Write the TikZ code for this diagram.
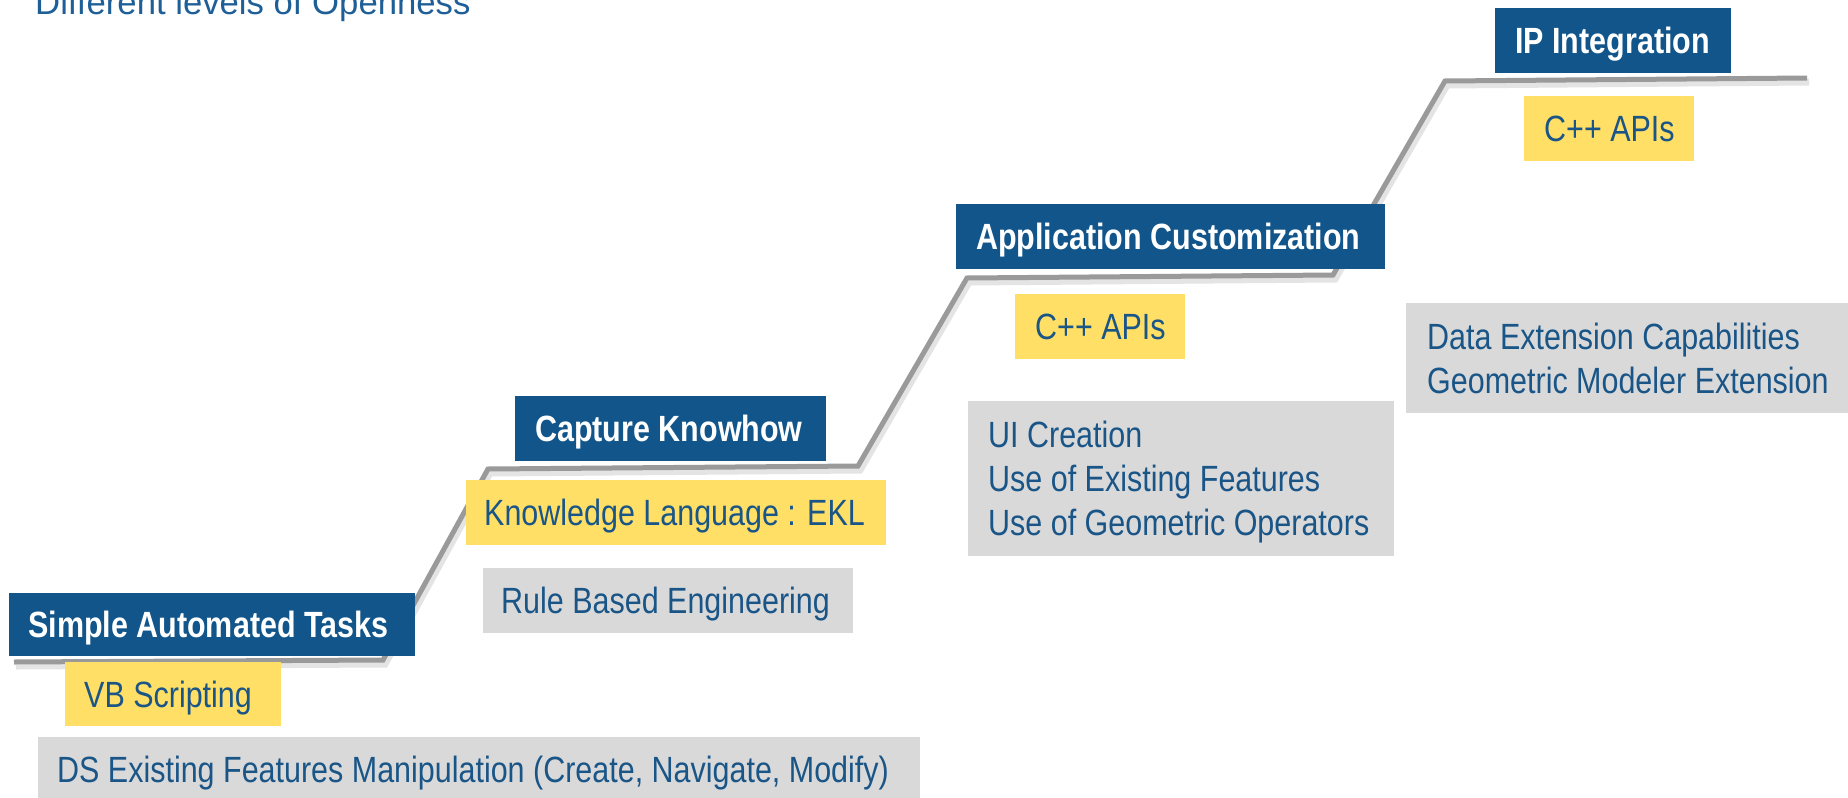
\documentclass[tikz,border=0pt]{standalone}
\usepackage{fontspec}
\setmainfont{Liberation Sans}
\newfontfamily\narrowfont[FakeStretch=0.835]{Liberation Sans}
\definecolor{hdrblue}{HTML}{11558A}
\definecolor{txtblue}{HTML}{1A5587}
\definecolor{titleblue}{HTML}{1F5F98}
\definecolor{ylw}{HTML}{FFDF66}
\definecolor{gry}{HTML}{D9D9D9}
\definecolor{stairgray}{HTML}{9A9A9A}
\begin{document}
\begin{tikzpicture}[x=1pt,y=-1pt,
  boxbase/.style={draw=none, inner sep=0, anchor=north west},
  hdrbox/.style={boxbase, fill=hdrblue},
  ylwbox/.style={boxbase, fill=ylw},
  grybox/.style={boxbase, fill=gry},
  hdrtext/.style={inner sep=0, anchor=base west, text=white, font=\narrowfont\bfseries\fontsize{36.5}{44}\selectfont},
  bodytext/.style={inner sep=0, anchor=base west, text=txtblue, font=\narrowfont\fontsize{36.5}{44}\selectfont},
  stair/.style={line width=5pt, stairgray, line join=miter, line cap=butt},
  stairshadow/.style={line width=7pt, black!30, opacity=0.35, line join=miter, line cap=butt}
]
\useasboundingbox (0,0) rectangle (1848,798);
\fill[white] (0,0) rectangle (1848,798);

% title (cut off at top)
\node[inner sep=0, anchor=base west, text=titleblue, font=\fontsize{34.7}{40}\selectfont] (title) at (35,14) {Different levels of Openness};

% staircase
\coordinate (s0) at (14,662);
\coordinate (s1) at (383,660);
\coordinate (s2) at (488,469);
\coordinate (s3) at (858,466);
\coordinate (s4) at (967,278);
\coordinate (s5) at (1333,275);
\coordinate (s6) at (1445,81);
\coordinate (s7) at (1807,78);
\draw[stairshadow] ([xshift=2pt,yshift=-4pt]s0) -- ([xshift=2pt,yshift=-4pt]s1) -- ([xshift=2pt,yshift=-4pt]s2) -- ([xshift=2pt,yshift=-4pt]s3) -- ([xshift=2pt,yshift=-4pt]s4) -- ([xshift=2pt,yshift=-4pt]s5) -- ([xshift=2pt,yshift=-4pt]s6) -- ([xshift=2pt,yshift=-4pt]s7);
\draw[stair] (s0) -- (s1) -- (s2) -- (s3) -- (s4) -- (s5) -- (s6) -- (s7);

% level 1
\node[hdrbox, minimum width=406pt, minimum height=63pt] (b1) at (9,593) {};
\node[hdrtext] (t1) at (28,637.5) {Simple Automated Tasks};
\node[ylwbox, minimum width=216pt, minimum height=64pt] (y1) at (65,662) {};
\node[bodytext] (ty1) at (84,707) {VB Scripting};
\node[grybox, minimum width=882pt, minimum height=64pt] (g1) at (38,737) {};
\node[bodytext] (tg1) at (57,782) {DS Existing Features Manipulation (Create, Navigate, Modify)};

% level 2
\node[hdrbox, minimum width=311pt, minimum height=65pt] (b2) at (515,396) {};
\node[hdrtext] (t2) at (535,441.5) {Capture Knowhow};
\node[ylwbox, minimum width=420pt, minimum height=65pt] (y2) at (466,480) {};
\node[bodytext] (ty2) at (484,525) {Knowledge Language : EKL};
\node[grybox, minimum width=370pt, minimum height=65pt] (g2) at (483,568) {};
\node[bodytext] (tg2) at (501,613.5) {Rule Based Engineering};

% level 3
\node[hdrbox, minimum width=429pt, minimum height=65pt] (b3) at (956,204) {};
\node[hdrtext] (t3) at (976,249.5) {Application Customization};
\node[ylwbox, minimum width=170pt, minimum height=65pt] (y3) at (1015,294) {};
\node[bodytext] (ty3) at (1035,339.5) {C++ APIs};
\node[grybox, minimum width=426pt, minimum height=155pt] (g3) at (968,401) {};
\node[bodytext] (tg3a) at (988,447.5) {UI Creation};
\node[bodytext] (tg3b) at (988,491.5) {Use of Existing Features};
\node[bodytext] (tg3c) at (988,535.5) {Use of Geometric Operators};

% level 4
\node[hdrbox, minimum width=236pt, minimum height=65pt] (b4) at (1495,8) {};
\node[hdrtext] (t4) at (1515,53.5) {IP Integration};
\node[ylwbox, minimum width=170pt, minimum height=65pt] (y4) at (1524,96) {};
\node[bodytext] (ty4) at (1544,141.5) {C++ APIs};
\node[grybox, minimum width=442pt, minimum height=110pt] (g4) at (1406,303) {};
\node[bodytext] (tg4a) at (1427,349) {Data Extension Capabilities};
\node[bodytext] (tg4b) at (1427,393) {Geometric Modeler Extension};
\end{tikzpicture}
\end{document}
